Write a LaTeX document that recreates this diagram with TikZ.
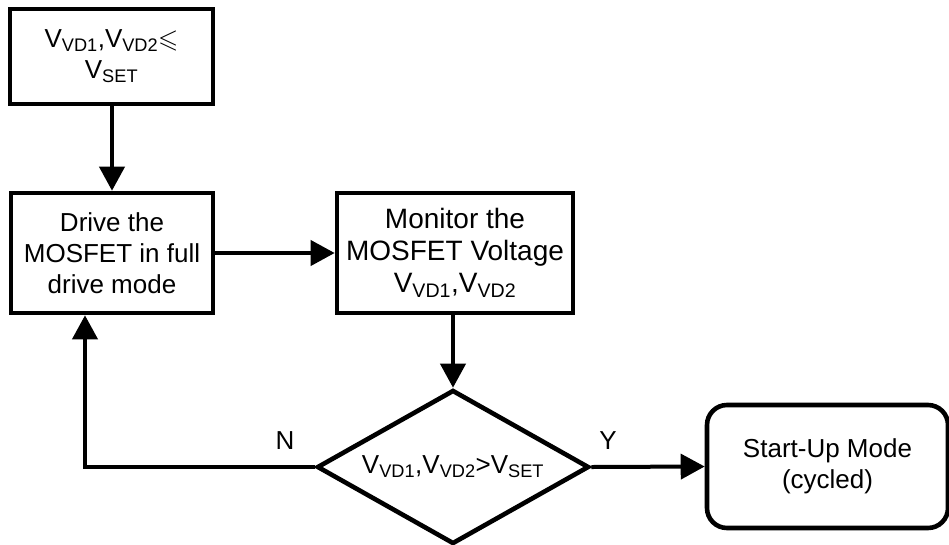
\documentclass[tikz,border=0pt]{standalone}
\usepackage{amssymb}
\usepackage{fontspec}
\setmainfont{Liberation Sans}
\usetikzlibrary{shapes.geometric,arrows.meta}
\newcommand{\Vs}[1]{V\textsubscript{#1}}
\begin{document}
\begin{tikzpicture}[x=1pt,y=-1pt,
  every node/.style={font=\fontsize{26pt}{31pt}\selectfont, align=center, inner sep=0pt},
  box/.style={draw, line width=4.6pt, rectangle},
  dia/.style={draw, line width=4.6pt, diamond, aspect=1.766, minimum width=272pt, minimum height=154pt},
  term/.style={draw, line width=4.6pt, rectangle, rounded corners=20pt},
  conn/.style={line width=4pt, -{Triangle[length=24pt,width=25pt]}},
  big/.style={font=\fontsize{28pt}{32pt}\selectfont},
  lbl/.style={font=\fontsize{26pt}{31pt}\selectfont}]
\useasboundingbox (0,0) rectangle (949,544);
\node[box, minimum width=203pt, minimum height=95pt] (top) at (111.5,56.5) {\Vs{VD1},\Vs{VD2}$\leqslant$\\\Vs{SET}};
\node[box, minimum width=202pt, minimum height=120pt] (drive) at (112,253) {Drive the\\MOSFET in full\\drive mode};
\node[box, big, minimum width=236pt, minimum height=120pt] (mon) at (455,253) {Monitor the\\MOSFET Voltage\\\Vs{VD1},\Vs{VD2}};
\node[dia] (dec) at (453,467) {\Vs{VD1},\Vs{VD2}>\Vs{SET}};
\node[term, minimum width=241pt, minimum height=123pt] (start) at (827.5,466.5) {Start-Up Mode\\(cycled)};
\coordinate (fb) at (85,467);
\draw[conn] (top.south -| drive.north) -- (drive.north);
\draw[conn] (drive.east) -- (mon.west);
\draw[conn] (mon.south -| dec.north) -- (dec.north);
\draw[conn] (dec.east) -- (start.west);
\draw[conn] (dec.west) -- (fb) -- (fb |- drive.south);
\node[lbl] (n) at (285,441) {N};
\node[lbl] (y) at (608,441) {Y};
\end{tikzpicture}
\end{document}
